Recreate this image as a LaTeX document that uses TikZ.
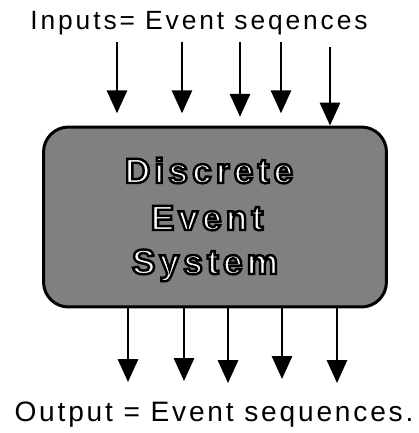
\documentclass[tikz,border=0pt]{standalone}
\usepackage{fontspec}
\setmainfont{Liberation Sans}
\usetikzlibrary{positioning, arrows.meta, calc}
% hollow letters: white fill, black stroke
\newcommand{\hollow}[1]{\textcolor{white}{\special{pdf:literal direct 0 G 2 Tr 1.4 w}#1\special{pdf:literal direct 0 Tr}}}

\begin{document}
\begin{tikzpicture}[x=0.02cm, y=-0.02cm,
  % Node Styles
  sysbox/.style={rectangle, rounded corners=0.5cm, draw, line width=1.7pt, fill=black!50, minimum width=6.86cm, minimum height=3.6cm, inner sep=0pt},
  systext/.style={anchor=base, inner sep=0pt, font=\fontsize{20}{22}\selectfont\bfseries\addfontfeature{LetterSpace=12}},
  labeltext/.style={anchor=base, inner sep=0pt, font=\fontsize{15}{17}\selectfont\addfontfeature{LetterSpace=11}},
  % Arrow Styles
  flowarrow/.style={-{Triangle[width=11.5pt, length=13pt]}, line width=1.2pt, black}
]
\useasboundingbox (0,0) rectangle (419,433);

\node[sysbox] (DES) at (215,217) {};
\node[systext] (Discrete) at (209,183) {\hollow{Discrete}};
\node[systext] (Event) at (207,230) {\hollow{Event}};
\node[systext] (System) at (205,274) {\hollow{System}};

\node[labeltext] (Inputs) at (199,29) {Inputs= Event seqences};
\node[labeltext, font=\fontsize{16}{18}\selectfont\addfontfeature{LetterSpace=10}] (Outputs) at (214,421) {Output = Event sequences.};

% Input sequences
\foreach \x/\ystart/\gap [count=\i] in {117/42/7, 182/42/7, 240/42/5, 281/42/7, 330/47/0} {
  \coordinate (in\i) at (\x,\ystart);
  \draw[flowarrow, shorten >=\gap] (in\i) -- (in\i |- DES.north);
}

% Output sequences
\foreach \x/\yend [count=\i] in {128/382, 184/381, 228/383, 282/379, 337/383} {
  \coordinate (out\i) at (\x,\yend);
  \draw[flowarrow] (out\i |- DES.south) -- (out\i);
}

\end{tikzpicture}
\end{document}
